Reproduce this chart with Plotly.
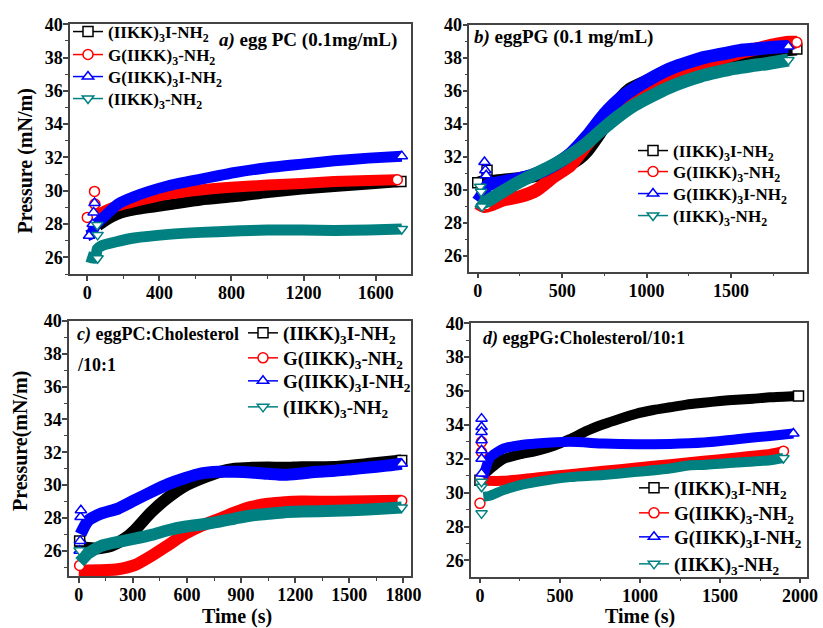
import plotly.graph_objects as go

# ---------------- DATA ----------------
SERIES = ["(IIKK)<sub>3</sub>I-NH<sub>2</sub>", "G(IIKK)<sub>3</sub>-NH<sub>2</sub>",
          "G(IIKK)<sub>3</sub>I-NH<sub>2</sub>", "(IIKK)<sub>3</sub>-NH<sub>2</sub>"]

# Panel a) egg PC (0.1 mg/mL)
a_black_t = [60, 100, 170, 260, 450, 630, 820, 1000, 1190, 1370, 1560, 1740]
a_black_p = [27.9, 28.2, 28.6, 28.85, 29.15, 29.45, 29.65, 29.9, 30.1, 30.25, 30.4, 30.55]
a_black_et, a_black_ep = [], []
a_red_t = [50, 100, 170, 260, 450, 630, 820, 1000, 1190, 1370, 1560, 1720]
a_red_p = [28.5, 28.8, 29.1, 29.35, 29.8, 30.05, 30.22, 30.34, 30.44, 30.55, 30.62, 30.66]
a_red_et, a_red_ep = [0, 40, 42], [28.4, 29.96, 29.2]
a_blue_t = [0, 20, 50, 80, 170, 260, 450, 630, 820, 1000, 1190, 1370, 1560, 1745]
a_blue_p = [27.3, 27.4, 28.0, 28.3, 29.2, 29.65, 30.3, 30.7, 31.1, 31.38, 31.6, 31.8, 31.96, 32.08]
a_blue_et, a_blue_ep = [10, 30, 35, 40], [27.3, 28.0, 28.7, 29.26]
a_teal_t = [0, 45, 55, 80, 170, 260, 450, 630, 820, 1000, 1190, 1370, 1560, 1745]
a_teal_p = [26.05, 25.95, 26.5, 26.7, 26.96, 27.16, 27.38, 27.5, 27.58, 27.64, 27.64, 27.62, 27.64, 27.7]
a_teal_et, a_teal_ep = [55, 57, 57], [27.95, 27.35, 25.95]

# Panel b) eggPG (0.1 mg/mL)
b_black_t = [0, 30, 60, 150, 250, 350, 450, 550, 600, 650, 700, 750, 800, 850, 900, 1000,
             1100, 1200, 1300, 1400, 1500, 1600, 1700, 1800, 1890]
b_black_p = [30.4, 30.5, 30.5, 30.6, 30.7, 30.9, 31.2, 31.6, 31.9, 32.4, 33.1, 33.9, 34.9, 35.6,
             36.1, 36.6, 37.0, 37.35, 37.65, 37.9, 38.1, 38.25, 38.38, 38.48, 38.55]
b_black_et, b_black_ep = [0, 55], [30.44, 31.2]
b_red_t = [0, 40, 80, 150, 250, 350, 450, 550, 650, 750, 850, 950, 1050, 1150, 1250, 1350,
           1450, 1550, 1650, 1750, 1850, 1890]
b_red_p = [29.2, 29.0, 29.1, 29.4, 29.6, 30.0, 30.8, 31.5, 32.8, 34.0, 35.0, 35.8, 36.4, 36.9,
           37.3, 37.7, 38.0, 38.3, 38.55, 38.8, 38.95, 38.95]
b_red_et, b_red_ep = [30, 50], [29.0, 29.1]
b_blue_t = [0, 20, 60, 150, 250, 350, 450, 550, 650, 750, 850, 950, 1050, 1150, 1250, 1350,
            1450, 1550, 1650, 1750, 1840]
b_blue_p = [29.3, 29.6, 30.3, 30.5, 30.7, 31.0, 31.5, 32.2, 33.3, 34.6, 35.6, 36.3, 36.9, 37.4,
            37.75, 38.05, 38.25, 38.45, 38.55, 38.65, 38.7]
b_blue_et, b_blue_ep = [40, 45, 50], [31.7, 31.2, 30.9]
b_teal_t = [0, 20, 60, 140, 240, 340, 440, 530, 630, 730, 830, 930, 1030, 1130, 1230, 1320,
            1420, 1520, 1620, 1720, 1840]
b_teal_p = [29.3, 29.2, 29.35, 29.86, 30.46, 30.97, 31.47, 32.0, 32.7, 33.6, 34.44, 35.15, 35.7,
            36.2, 36.6, 36.9, 37.15, 37.37, 37.53, 37.67, 37.88]
b_teal_et, b_teal_ep = [15, 20, 25], [30.2, 29.9, 29.0]

# Panel c) eggPC:Cholesterol/10:1
c_black_t = [5, 15, 90, 180, 255, 310, 400, 495, 590, 680, 770, 865, 960, 1050, 1140, 1235,
             1420, 1600, 1790]
c_black_p = [26.6, 26.25, 26.13, 26.3, 26.74, 27.25, 28.33, 29.24, 29.96, 30.4, 30.77, 31.0,
             31.05, 31.07, 31.05, 31.09, 31.1, 31.28, 31.5]
c_black_et, c_black_ep = [5], [26.6]
c_red_t = [0, 125, 218, 310, 403, 495, 587, 680, 772, 865, 957, 1049, 1142, 1234, 1419, 1604, 1790]
c_red_p = [24.8, 24.81, 24.87, 25.12, 25.69, 26.34, 27.01, 27.52, 27.92, 28.33, 28.67, 28.86,
           28.96, 29.0, 28.98, 29.02, 29.04]
c_red_et, c_red_ep = [5], [25.1]
c_blue_t = [10, 51, 125, 218, 310, 403, 495, 587, 680, 772, 865, 957, 1049, 1142, 1234, 1327,
            1419, 1511, 1604, 1696, 1790]
c_blue_p = [27.0, 27.82, 28.27, 28.57, 29.08, 29.59, 30.06, 30.42, 30.71, 30.81, 30.81, 30.77,
            30.69, 30.63, 30.71, 30.81, 30.87, 30.97, 31.07, 31.17, 31.3]
c_blue_et, c_blue_ep = [5, 8, 10, 12], [26.0, 26.6, 28.06, 28.47]
c_teal_t = [5, 24, 51, 125, 218, 310, 403, 495, 587, 680, 772, 865, 957, 1049, 1142, 1234,
            1419, 1604, 1790]
c_teal_p = [25.3, 25.52, 25.83, 26.3, 26.54, 26.74, 26.97, 27.25, 27.46, 27.6, 27.76, 27.96,
            28.15, 28.25, 28.35, 28.39, 28.43, 28.51, 28.63]
c_teal_et, c_teal_ep = [5], [26.03]

# Panel d) eggPG:Cholesterol/10:1
d_black_t = [0, 42, 146, 250, 354, 458, 562, 667, 771, 875, 979, 1083, 1187, 1291, 1396, 1500,
             1604, 1708, 1812, 1990]
d_black_p = [30.74, 31.23, 31.98, 32.27, 32.47, 32.76, 33.16, 33.65, 34.04, 34.37, 34.67, 34.88,
             35.04, 35.2, 35.31, 35.41, 35.49, 35.55, 35.63, 35.71]
d_black_et, d_black_ep = [0], [30.74]
d_red_t = [21, 146, 354, 562, 771, 979, 1187, 1396, 1604, 1812, 1896]
d_red_p = [30.7, 30.7, 30.9, 31.09, 31.29, 31.49, 31.68, 31.88, 32.08, 32.29, 32.45]
d_red_et, d_red_ep = [0, 10, 10], [29.37, 32.4, 33.0]
d_blue_t = [21, 62, 146, 250, 354, 562, 771, 979, 1187, 1396, 1604, 1812, 1958]
d_blue_p = [30.9, 32.07, 32.6, 32.8, 32.9, 33.0, 32.9, 32.86, 32.88, 32.96, 33.16, 33.35, 33.49]
d_blue_et, d_blue_ep = [10] * 7, [34.37, 33.88, 33.59, 33.1, 32.5, 32.0, 31.13]
d_teal_t = [21, 62, 146, 250, 354, 562, 771, 979, 1187, 1312, 1396, 1604, 1812, 1896]
d_teal_p = [29.76, 29.82, 30.15, 30.45, 30.64, 30.92, 31.05, 31.23, 31.43, 31.62, 31.64, 31.78,
            31.92, 32.05]
d_teal_et, d_teal_ep = [10, 10, 10], [28.78, 30.35, 30.64]

COLORS = ["#000000", "#FF0000", "#0000FF", "#008080"]
SYMBOLS = ["square", "circle", "triangle-up", "triangle-down"]

PANELS = [
    dict(data=[(a_black_t, a_black_p, a_black_et, a_black_ep), (a_red_t, a_red_p, a_red_et, a_red_ep),
               (a_blue_t, a_blue_p, a_blue_et, a_blue_ep), (a_teal_t, a_teal_p, a_teal_et, a_teal_ep)],
         lw=11),
    dict(data=[(b_black_t, b_black_p, b_black_et, b_black_ep), (b_red_t, b_red_p, b_red_et, b_red_ep),
               (b_blue_t, b_blue_p, b_blue_et, b_blue_ep), (b_teal_t, b_teal_p, b_teal_et, b_teal_ep)],
         lw=13),
    dict(data=[(c_black_t, c_black_p, c_black_et, c_black_ep), (c_red_t, c_red_p, c_red_et, c_red_ep),
               (c_blue_t, c_blue_p, c_blue_et, c_blue_ep), (c_teal_t, c_teal_p, c_teal_et, c_teal_ep)],
         lw=12),
    dict(data=[(d_black_t, d_black_p, d_black_et, d_black_ep), (d_red_t, d_red_p, d_red_et, d_red_ep),
               (d_blue_t, d_blue_p, d_blue_et, d_blue_ep), (d_teal_t, d_teal_p, d_teal_et, d_teal_ep)],
         lw=10),
]

W, H = 823, 628
FONT = "Liberation Serif"

# layout geometry (pixels)
DOMAINS = [
    ((70, 411), (24.3, 274)),
    ((469.3, 807.3), (25, 271.7)),
    ((69, 410.7), (321, 576)),
    ((471, 807.3), (323.3, 576.7)),
]
XRANGES = [[-96, 1796], [-50, 1952], [-54, 1840], [-56, 2045]]
YRANGES = [[25, 40], [25.05, 40], [24.46, 40], [25.04, 40]]
XDTICK = [(400, 200), (500, 250), (300, 150), (500, 250)]

# legend rows: (left x of sample line, row centres, font size)
LEG_ROWS = [(71, [32, 55, 77, 99], 17), (636, [151, 172, 194, 216], 17),
            (246, [333, 358, 381, 407], 19), (637, [488, 513, 537, 564], 19)]

fig = go.Figure()
layout = dict(width=W, height=H, margin=dict(l=0, r=0, t=0, b=0, autoexpand=False),
              paper_bgcolor="white", plot_bgcolor="white", showlegend=True)

for i, panel in enumerate(PANELS):
    sfx = "" if i == 0 else str(i + 1)
    lx, rows, fs = LEG_ROWS[i]
    for j, (t, p, et, ep) in enumerate(panel["data"]):
        col = COLORS[j]
        k = i * 4 + j
        lname = "legend" if k == 0 else "legend" + str(k + 1)
        fig.add_trace(go.Scatter(x=t, y=p, mode="lines", xaxis="x" + sfx, yaxis="y" + sfx,
                                 line=dict(color=col, width=panel["lw"], shape="spline", smoothing=0.6),
                                 showlegend=False, hoverinfo="skip"))
        if et:
            fig.add_trace(go.Scatter(x=et, y=ep, mode="markers", xaxis="x" + sfx, yaxis="y" + sfx,
                                     marker=dict(symbol=SYMBOLS[j], size=10, color="white",
                                                 line=dict(color=col, width=1.5)),
                                     showlegend=False, hoverinfo="skip"))
        fig.add_trace(go.Scatter(x=t[-1:], y=p[-1:], mode="lines+markers", xaxis="x" + sfx, yaxis="y" + sfx,
                                 name=SERIES[j], legend=lname,
                                 line=dict(color=col, width=1.5),
                                 marker=dict(symbol=SYMBOLS[j], size=10, color="white",
                                             line=dict(color=col, width=1.5))))
        layout[lname] = dict(x=(lx - 3) / W, y=1 - rows[j] / H, xanchor="left", yanchor="middle",
                             bgcolor="rgba(0,0,0,0)", borderwidth=0, itemwidth=30,
                             font=dict(family=FONT, size=fs, color="black", weight="bold"))

axis_common = dict(showline=True, linecolor="#444444", linewidth=1.5, mirror=True,
                   ticks="outside", ticklen=5, tickwidth=1.5, tickcolor="#444444",
                   showgrid=False, zeroline=False, automargin=False,
                   tickfont=dict(family=FONT, size=18, color="black", weight="bold"))

for i in range(4):
    sfx = "" if i == 0 else str(i + 1)
    (x0, x1), (y0, y1) = DOMAINS[i]
    layout["xaxis" + sfx] = dict(axis_common, domain=[x0 / W, x1 / W], range=XRANGES[i],
                                 anchor="y" + sfx, dtick=XDTICK[i][0], tick0=0,
                                 ticklabelstandoff=-3,
                                 minor=dict(dtick=XDTICK[i][1], ticks="outside", ticklen=3,
                                            tickcolor="#444444", tickwidth=1.2))
    layout["yaxis" + sfx] = dict(axis_common, domain=[1 - y1 / H, 1 - y0 / H], range=YRANGES[i],
                                 anchor="x" + sfx, dtick=2, tick0=0,
                                 ticklabelstandoff=-3,
                                 minor=dict(dtick=1, ticks="outside", ticklen=3,
                                            tickcolor="#444444", tickwidth=1.2))

fig.update_layout(**layout)

ann = [
    ("<i>a)</i> egg PC (0.1mg/mL)", 217, 40, 19),
    ("<i>b)</i> eggPG (0.1 mg/mL)", 472, 37, 19),
    ("<i>c)</i> eggPC:Cholesterol", 75, 334, 18),
    ("/10:1", 75, 365, 18),
    ("<i>d)</i> eggPG:Cholesterol/10:1", 481, 338, 18),
]
for text, x, y, fs in ann:
    fig.add_annotation(text=text, x=x / W, y=1 - y / H, xref="paper", yref="paper",
                       xanchor="left", yanchor="middle", showarrow=False,
                       font=dict(family=FONT, size=fs, color="black", weight="bold"))

for text, x, y in [("Pressure (mN/m)", 25, 161.5), ("Pressure(mN/m)", 20, 441)]:
    fig.add_annotation(text=text, x=x / W, y=1 - y / H, xref="paper", yref="paper",
                       xanchor="center", yanchor="middle", showarrow=False, textangle=-90,
                       font=dict(family=FONT, size=20, color="black", weight="bold"))
for x in [237, 640]:
    fig.add_annotation(text="Time (s)", x=x / W, y=1 - 616 / H, xref="paper", yref="paper",
                       xanchor="center", yanchor="middle", showarrow=False,
                       font=dict(family=FONT, size=20, color="black", weight="bold"))

fig.write_html("out.html")
